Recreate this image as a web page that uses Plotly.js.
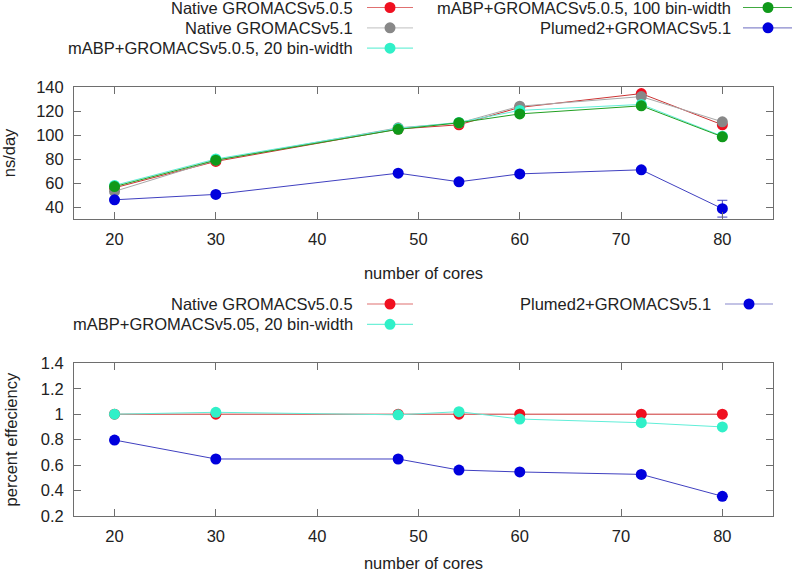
<!DOCTYPE html>
<html>
<head>
<meta charset="utf-8">
<script src="https://cdn.plot.ly/plotly-3.0.1.min.js"></script>
<style>html,body{margin:0;padding:0;background:#fff;}#chart{width:792px;height:572px;}</style>
</head>
<body>
<div id="chart"></div>
<script>
// ---- data ----
const cores = [20, 30, 48, 54, 60, 72, 80];

const nativeV505 = [56, 78, 105, 108.5, 123, 134.5, 108.5];
const nativeV51 = [53, 79, 106, 110, 124, 132, 111];
const mabp20bin = [58, 80, 105.5, 110.5, 120.5, 125.5, 99];
const mabp100bin = [57, 79, 104.7, 110.2, 117.6, 124.3, 98.5];
const plumedV51 = [46, 50.5, 68.2, 61, 67.6, 71, 38.6];
const plumedErr = [0.8, 0.8, 0.8, 0.8, 0.8, 0.8, 7];

const effNative = [1, 1, 1, 1, 1, 1, 1];
const effMabp20 = [1, 1.015, 0.995, 1.02, 0.962, 0.933, 0.9];
const effPlumed = [0.797, 0.648, 0.648, 0.561, 0.546, 0.527, 0.355];

const topNames = ["Native GROMACSv5.0.5", "Native GROMACSv5.1", "mABP+GROMACSv5.0.5, 20 bin-width",
                  "mABP+GROMACSv5.0.5, 100 bin-width", "Plumed2+GROMACSv5.1"];
const botNames = ["Native GROMACSv5.0.5", "mABP+GROMACSv5.05, 20 bin-width", "Plumed2+GROMACSv5.1"];
const xTitle = "number of cores";
const yTitleTop = "ns/day";
const yTitleBot = "percent effeciency";

// ---- styles ----
const C = {
  red:   {m: "#f01020", l: "#cc3333", lg: "#e07070"},
  gray:  {m: "#888888", l: "#a8a8a8", lg: "#cccccc"},
  cyan:  {m: "#30f0c8", l: "#60eed8", lg: "#70f0d8"},
  green: {m: "#10991a", l: "#22a022", lg: "#40aa40"},
  blue:  {m: "#0000dd", l: "#4040c0", lg: "#8888cc"}
};
const MS = 11;
const FONT = "Liberation Sans, Arial, sans-serif";

function tr(y, col, name, xa, ya, extra) {
  const t = {x: cores, y: y, name: name, type: "scatter", mode: "lines+markers",
    xaxis: xa, yaxis: ya, showlegend: false,
    line: {color: col.l, width: 1}, marker: {color: col.m, size: MS}};
  return Object.assign(t, extra || {});
}

const traces = [
  tr(nativeV505, C.red, topNames[0], "x", "y"),
  tr(nativeV51, C.gray, topNames[1], "x", "y"),
  tr(mabp20bin, C.cyan, topNames[2], "x", "y"),
  tr(mabp100bin, C.green, topNames[3], "x", "y"),
  tr(plumedV51, C.blue, topNames[4], "x", "y",
     {error_y: {type: "data", array: plumedErr, visible: true, color: C.blue.l, thickness: 1, width: 5}}),
  tr(effNative, C.red, botNames[0], "x2", "y2"),
  tr(effMabp20, C.cyan, botNames[1], "x2", "y2"),
  tr(effPlumed, C.blue, botNames[2], "x2", "y2")
];

// pixel -> paper helpers (margins l=74, r=19, t=0, b=0)
const L = 74, W = 699, H = 572;
const px = x => (x - L) / W;
const py = y => 1 - y / H;

const annotations = [];
const shapes = [];
function legendItem(text, col, textRight, lineX0, lineX1, dotX, rowY) {
  annotations.push({xref: "paper", yref: "paper", x: px(textRight), y: py(rowY),
    xanchor: "right", yanchor: "middle", text: text, showarrow: false,
    font: {family: FONT, size: 16.5, color: "#222"}});
  shapes.push({type: "line", xref: "paper", yref: "paper",
    x0: px(lineX0), x1: px(lineX1), y0: py(rowY), y1: py(rowY),
    line: {color: col.lg, width: 1.2}});
  shapes.push({type: "circle", xref: "paper", yref: "paper",
    xsizemode: "pixel", ysizemode: "pixel", xanchor: px(dotX), yanchor: py(rowY),
    x0: -MS / 2, x1: MS / 2, y0: -MS / 2, y1: MS / 2,
    fillcolor: col.m, line: {width: 0}});
}
// top legend
legendItem(topNames[0], C.red, 355, 367, 413, 390, 7.5);
legendItem(topNames[1], C.gray, 355, 367, 413, 390, 27.8);
legendItem(topNames[2], C.cyan, 355, 367, 413, 390, 48.2);
legendItem(topNames[3], C.green, 733, 743, 792, 768, 7.5);
legendItem(topNames[4], C.blue, 733, 743, 792, 768, 27.8);
// bottom legend
legendItem(botNames[0], C.red, 355, 367, 413, 390, 304);
legendItem(botNames[1], C.cyan, 355, 367, 413, 390, 324.3);
legendItem(botNames[2], C.blue, 713, 725, 773, 749, 304);

const axCommon = {
  showgrid: false, zeroline: false, showline: true, mirror: "ticks",
  linecolor: "#6e6e6e", linewidth: 1, ticks: "inside", ticklen: 7,
  tickcolor: "#6e6e6e", tickwidth: 1,
  tickfont: {family: FONT, size: 16.5, color: "#222"}
};
const xax = (anchor) => Object.assign({}, axCommon, {
  range: [16, 85], tickvals: [20, 30, 40, 50, 60, 70, 80], anchor: anchor,
  ticklabelstandoff: 5,
  title: {text: xTitle, font: {family: FONT, size: 16.5, color: "#222"}}
});

const layout = {
  width: 792, height: 572,
  margin: {l: L, r: 19, t: 0, b: 0},
  paper_bgcolor: "#fff", plot_bgcolor: "#fff",
  showlegend: false,
  xaxis: xax("y"),
  xaxis2: xax("y2"),
  yaxis: Object.assign({}, axCommon, {
    domain: [py(219), py(87)], range: [30, 140], tickvals: [40, 60, 80, 100, 120, 140],
    anchor: "x", ticklabelstandoff: 6,
    title: {text: yTitleTop, standoff: 18, font: {family: FONT, size: 16.5, color: "#222"}}
  }),
  yaxis2: Object.assign({}, axCommon, {
    domain: [py(516), py(363.3)], range: [0.2, 1.4],
    tickvals: [0.2, 0.4, 0.6, 0.8, 1, 1.2, 1.4], ticktext: ["0.2", "0.4", "0.6", "0.8", "1", "1.2", "1.4"],
    anchor: "x2", ticklabelstandoff: 6,
    title: {text: yTitleBot, standoff: 18, font: {family: FONT, size: 16.5, color: "#222"}}
  }),
  annotations: annotations,
  shapes: shapes
};

Plotly.newPlot("chart", traces, layout, {staticPlot: true, displayModeBar: false});
</script>
</body>
</html>
